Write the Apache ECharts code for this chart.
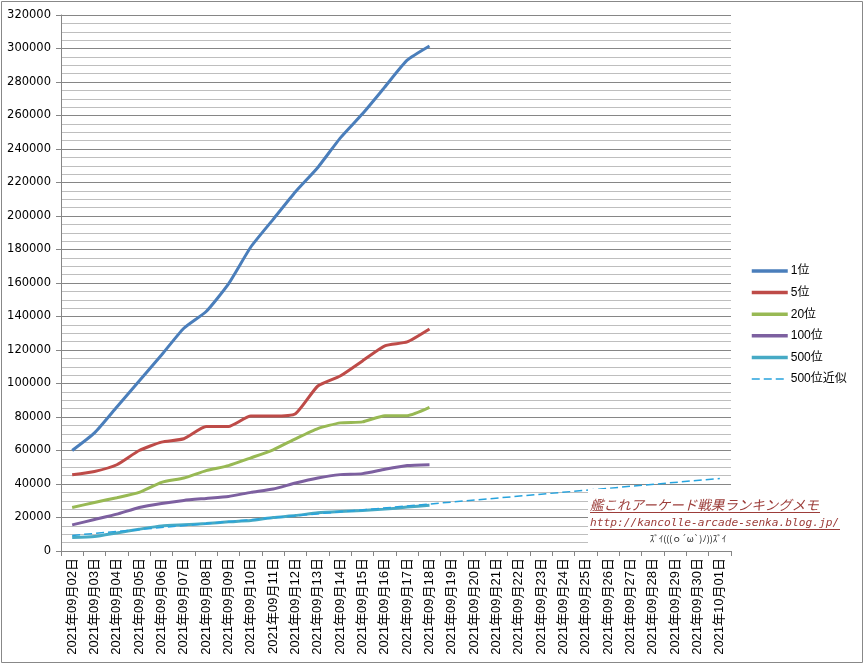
<!DOCTYPE html>
<html>
<head>
<meta charset="utf-8">
<script src="https://cdn.jsdelivr.net/npm/echarts@6/dist/echarts.min.js"></script>
<style>
html,body{margin:0;padding:0;background:#fff;}
#c{width:864px;height:664px;}
</style>
</head>
<body>
<div id="c"></div>
<script>
var categories = ['2021年09月02日','2021年09月03日','2021年09月04日','2021年09月05日','2021年09月06日','2021年09月07日','2021年09月08日','2021年09月09日','2021年09月10日','2021年09月11日','2021年09月12日','2021年09月13日','2021年09月14日','2021年09月15日','2021年09月16日','2021年09月17日','2021年09月18日','2021年09月19日','2021年09月20日','2021年09月21日','2021年09月22日','2021年09月23日','2021年09月24日','2021年09月25日','2021年09月26日','2021年09月27日','2021年09月28日','2021年09月29日','2021年09月30日','2021年10月01日'];
var seriesNames = ['1位','5位','20位','100位','500位','500位近似'];
var rank1   = [60000, 70500, 86000, 101500, 117000, 133000, 143000, 159500, 181500, 198000, 214500, 229000, 246500, 261000, 277000, 293000, 301500];
var rank5   = [45500, 47500, 51500, 60000, 65000, 67000, 74300, 74300, 80600, 80600, 82000, 98500, 104500, 113500, 122500, 124800, 132500];
var rank20  = [26000, 29000, 31800, 35000, 41000, 43600, 48000, 51000, 55600, 60400, 67000, 73100, 76500, 77100, 80800, 80800, 85700];
var rank100 = [15600, 18800, 22000, 26000, 28400, 30200, 31400, 32600, 35000, 37000, 40600, 43600, 45600, 46200, 48800, 51000, 51500];
var rank500 = [8000, 8600, 10800, 13000, 15000, 15700, 16400, 17400, 18200, 20000, 21200, 22800, 23600, 24200, 25000, 26200, 27300];
// trend line: values read at the first and last category only
var trend500 = [9300, null, null, null, null, null, null, null, null, null, null, null, null, null, null, null, null, null, null, null, null, null, null, null, null, null, null, null, null, 43300];
var yTicks = {min: 0, max: 320000, interval: 20000};
var colors = ['#4A7EBB', '#BE4B48', '#98B954', '#7D60A0', '#46AAC5', '#27A3DD'];

var chart = echarts.init(document.getElementById('c'), null, {renderer: 'canvas'});
var labelFont = "'Liberation Sans','Noto Sans CJK JP',sans-serif";
var values = [rank1, rank5, rank20, rank100, rank500];
var series = values.map(function (d, i) {
  return {
    name: seriesNames[i], type: 'line', data: d, symbol: 'none', smooth: 0.18,
    lineStyle: {width: 3, color: colors[i]}, itemStyle: {color: colors[i]}, z: 3
  };
});
series.push({
  name: seriesNames[5], type: 'line', data: trend500, symbol: 'none', connectNulls: true,
  lineStyle: {width: 1.5, color: colors[5], type: [8, 4]}, itemStyle: {color: colors[5]}, z: 4
});
var legendData = seriesNames.map(function (n, i) {
  return {name: n, lineStyle: {width: i < 5 ? 3.5 : 1.3}};
});

chart.setOption({
  animation: false,
  backgroundColor: '#fff',
  grid: {left: 61, right: 133, top: 15, bottom: 113, containLabel: false},
  legend: {
    orient: 'vertical', left: 750, top: 265, padding: 0, itemWidth: 36, itemHeight: 14, itemGap: 9.6,
    data: legendData,
    itemStyle: {opacity: 0},
    textStyle: {color: '#000', fontSize: 12, fontFamily: labelFont, padding: [0,0,0,-2]}
  },
  xAxis: {
    type: 'category', data: categories, boundaryGap: true,
    axisLine: {lineStyle: {color: '#868686', width: 1}},
    axisTick: {show: true, length: 5, interval: 0, lineStyle: {color: '#868686'}},
    axisLabel: {rotate: 90, interval: 0, fontSize: 13, color: '#000', margin: 7, fontFamily: labelFont},
    splitLine: {show: false}
  },
  yAxis: {
    type: 'value', min: yTicks.min, max: yTicks.max, interval: yTicks.interval,
    axisLine: {show: true, lineStyle: {color: '#868686'}},
    axisTick: {show: true, length: 5, lineStyle: {color: '#868686'}},
    axisLabel: {fontSize: 11.5, color: '#000', margin: 10, fontFamily: "'DejaVu Sans',sans-serif",
      formatter: function (v) { return String(v); }},
    splitLine: {show: true, lineStyle: {color: '#868686', width: 1}},
    minorTick: {show: false, splitNumber: 4},
    minorSplitLine: {show: true, lineStyle: {color: '#BEBEBE', width: 1}}
  },
  graphic: [
    {type: 'rect', z: 100, shape: {x: 588, y: 489, width: 258, height: 60}, style: {fill: '#fff'}},
    {type: 'text', z: 101, x: 590, y: 505, style: {text: '艦これアーケード戦果ランキングメモ', fill: '#9C3D3A', fontSize: 13.5, fontStyle: 'italic', fontFamily: "'Noto Sans CJK JP',sans-serif", verticalAlign: 'middle', align: 'left'}},
    {type: 'line', z: 101, shape: {x1: 590, y1: 512.5, x2: 820, y2: 512.5}, style: {stroke: '#9C3D3A', lineWidth: 1}},
    {type: 'text', z: 101, x: 590, y: 523, style: {text: 'http://kancolle-arcade-senka.blog.jp/', fill: '#9C3D3A', fontSize: 11.2, fontStyle: 'italic', fontFamily: "'DejaVu Sans Mono',monospace", verticalAlign: 'middle', align: 'left'}},
    {type: 'line', z: 101, shape: {x1: 590, y1: 529.5, x2: 840, y2: 529.5}, style: {stroke: '#9C3D3A', lineWidth: 1}},
    {type: 'text', z: 101, x: 688, y: 539, style: {text: 'ｽﾞｲ(((ｏ´ω`)ﾉ))ｽﾞｲ', fill: '#222', fontSize: 9, fontFamily: "'Noto Sans CJK JP',sans-serif", verticalAlign: 'middle', align: 'center'}},
    {type: 'rect', z: 102, shape: {x: 1.5, y: 1.5, width: 861, height: 661}, style: {fill: 'none', stroke: '#888', lineWidth: 1}}
  ],
  series: series
});
</script>
</body>
</html>
